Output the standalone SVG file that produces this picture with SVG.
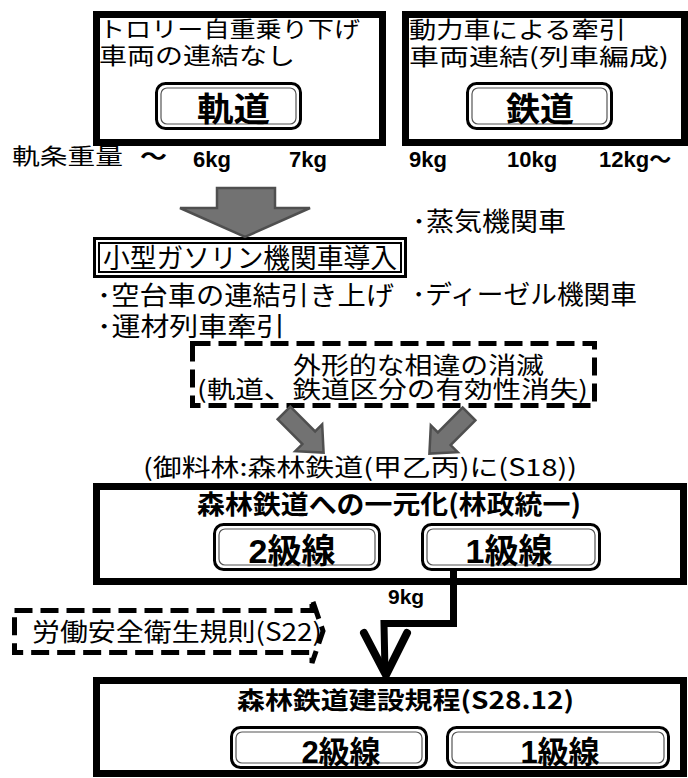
<svg xmlns="http://www.w3.org/2000/svg" width="688" height="778" viewBox="0 0 688 778">
<defs>
<style>
.t{font-family:"Noto Sans CJK JP","Noto Sans CJK SC",sans-serif;fill:#000}
.b{font-weight:bold}
.lat{font-family:"Liberation Sans","Noto Sans CJK JP",sans-serif;font-weight:bold;fill:#000}
.frame{fill:#fff;stroke:#000;stroke-width:7}
.pillO{fill:#fff;stroke:#000;stroke-width:3}
.pillI{fill:none;stroke:#555;stroke-width:1.2}
.dash{fill:#fff;stroke:#000;stroke-width:5;stroke-dasharray:18 8}
.garrow{fill:#727272;stroke:#4f4f4f;stroke-width:2.5;stroke-linejoin:miter}
.conn{fill:none;stroke:#000;stroke-width:7}
</style>
<path id="diag" d="M0,-9 H35 V-19 L56,0 L35,19 V9 H0 Z"/>
</defs>
<rect width="688" height="778" fill="#fff"/>

<g id="n-kido">
<rect class="frame" x="96.5" y="14.5" width="286" height="128"/>
<text class="t" x="99" y="37" font-size="22" textLength="261" lengthAdjust="spacingAndGlyphs">トロリー自重乗り下げ</text>
<text class="t" x="99" y="64" font-size="23" textLength="196" lengthAdjust="spacingAndGlyphs">車両の連結なし</text>
<rect class="pillO" x="156.5" y="83.5" width="144" height="45" rx="9"/>
<rect class="pillI" x="161" y="88" width="135" height="36" rx="6"/>
<text class="t b" x="197" y="121" font-size="33" textLength="73" lengthAdjust="spacingAndGlyphs">軌道</text>
</g>

<g id="n-tetsudo">
<rect class="frame" x="405.5" y="14.5" width="279" height="128"/>
<text class="t" x="409" y="38" font-size="23" textLength="217" lengthAdjust="spacingAndGlyphs">動力車による牽引</text>
<text class="t" x="409" y="65" font-size="23" textLength="260" lengthAdjust="spacingAndGlyphs">車両連結(列車編成)</text>
<rect class="pillO" x="467.5" y="83.5" width="144" height="45" rx="9"/>
<rect class="pillI" x="472" y="88" width="135" height="36" rx="6"/>
<text class="t b" x="506" y="121" font-size="33" textLength="68" lengthAdjust="spacingAndGlyphs">鉄道</text>
</g>

<g id="n-weight">
<text class="t" x="12" y="164" font-size="22" textLength="111" lengthAdjust="spacingAndGlyphs">軌条重量</text>
<text class="t b" x="140" y="164" font-size="22" textLength="27" lengthAdjust="spacingAndGlyphs">～</text>
<text class="lat" x="193" y="167" font-size="22">6kg</text>
<text class="lat" x="289" y="167" font-size="22">7kg</text>
<text class="lat" x="409" y="167" font-size="22">9kg</text>
<text class="lat" x="507" y="167" font-size="22">10kg</text>
<text class="lat" x="599" y="167" font-size="22">12kg～</text>
</g>

<g id="n-gasoline">
<rect x="94.5" y="238.5" width="311" height="38" fill="#fff" stroke="#000" stroke-width="3"/>
<rect x="99" y="243" width="302" height="29" fill="none" stroke="#000" stroke-width="2"/>
<text class="t" x="103" y="268" font-size="27" textLength="294" lengthAdjust="spacingAndGlyphs">小型ガソリン機関車導入</text>
</g>

<g id="n-gas-notes">
<text class="t" x="97" y="305" font-size="26" textLength="297" lengthAdjust="spacingAndGlyphs">･空台車の連結引き上げ</text>
<text class="t" x="97" y="336" font-size="26" textLength="188" lengthAdjust="spacingAndGlyphs">･運材列車牽引</text>
</g>

<g id="n-loco">
<text class="t" x="412" y="231" font-size="26" textLength="154" lengthAdjust="spacingAndGlyphs">･蒸気機関車</text>
<text class="t" x="412" y="304" font-size="26" textLength="225" lengthAdjust="spacingAndGlyphs">･ディーゼル機関車</text>
</g>

<g id="n-shometsu">
<rect class="dash" x="192.5" y="343.5" width="402" height="62"/>
<text class="t" x="293" y="374" font-size="24" textLength="251" lengthAdjust="spacingAndGlyphs">外形的な相違の消滅</text>
<text class="t" x="197" y="398" font-size="24" textLength="391" lengthAdjust="spacingAndGlyphs">(軌道、鉄道区分の有効性消失)</text>
</g>

<g id="n-caption">
<text class="t" x="143" y="476" font-size="24" textLength="434" lengthAdjust="spacingAndGlyphs">(御料林:森林鉄道(甲乙丙)に(S18))</text>
</g>

<g id="n-ichigenka">
<rect class="frame" x="96.5" y="486.5" width="587" height="95"/>
<text class="t b" x="197" y="514" font-size="26" textLength="384" lengthAdjust="spacingAndGlyphs">森林鉄道への一元化(林政統一)</text>
<rect class="pillO" x="214.5" y="524.5" width="165" height="45" rx="9"/>
<rect class="pillI" x="219" y="529" width="156" height="36" rx="6"/>
<text class="lat" x="292" y="563" font-size="34" text-anchor="middle">2級線</text>
<rect class="pillO" x="422.5" y="524.5" width="177" height="45" rx="9"/>
<rect class="pillI" x="427" y="529" width="168" height="36" rx="6"/>
<text class="lat" x="509" y="563" font-size="34" text-anchor="middle">1級線</text>
</g>

<g id="n-rodo">
<path class="dash" d="M14.5,610.5 H312 V599 L323,631 L312,663 V652.5 H14.5 Z"/>
<text class="t" x="32" y="641" font-size="25" textLength="290" lengthAdjust="spacingAndGlyphs">労働安全衛生規則(S22)</text>
</g>

<g id="n-kitei">
<rect class="frame" x="96.5" y="680.5" width="587" height="93"/>
<text class="t b" x="237" y="709" font-size="24" textLength="337" lengthAdjust="spacingAndGlyphs">森林鉄道建設規程(S28.12)</text>
<rect class="pillO" x="231.5" y="727.5" width="195" height="40" rx="9"/>
<rect class="pillI" x="236" y="732" width="186" height="31" rx="6"/>
<text class="lat" x="341" y="763" font-size="31" text-anchor="middle">2級線</text>
<rect class="pillO" x="447.5" y="727.5" width="221" height="40" rx="9"/>
<rect class="pillI" x="452" y="732" width="212" height="31" rx="6"/>
<text class="lat" x="560" y="763" font-size="31" text-anchor="middle">1級線</text>
</g>

<g id="connectors">
<polygon class="garrow" points="217,188 275,188 275,208 310,208 245,237 180,208 217,208"/>
<use href="#diag" class="garrow" transform="translate(284,413) rotate(45)"/>
<use href="#diag" class="garrow" transform="translate(469,414) rotate(135)"/>
<polyline class="conn" points="453.5,570 453.5,623.5 384,623.5 385,672"/>
<polyline fill="none" stroke="#000" stroke-width="8" stroke-linejoin="miter" stroke-linecap="round" points="364,633 386,675 407,633"/>
<text class="lat" x="388" y="604" font-size="21">9kg</text>
</g>
</svg>
